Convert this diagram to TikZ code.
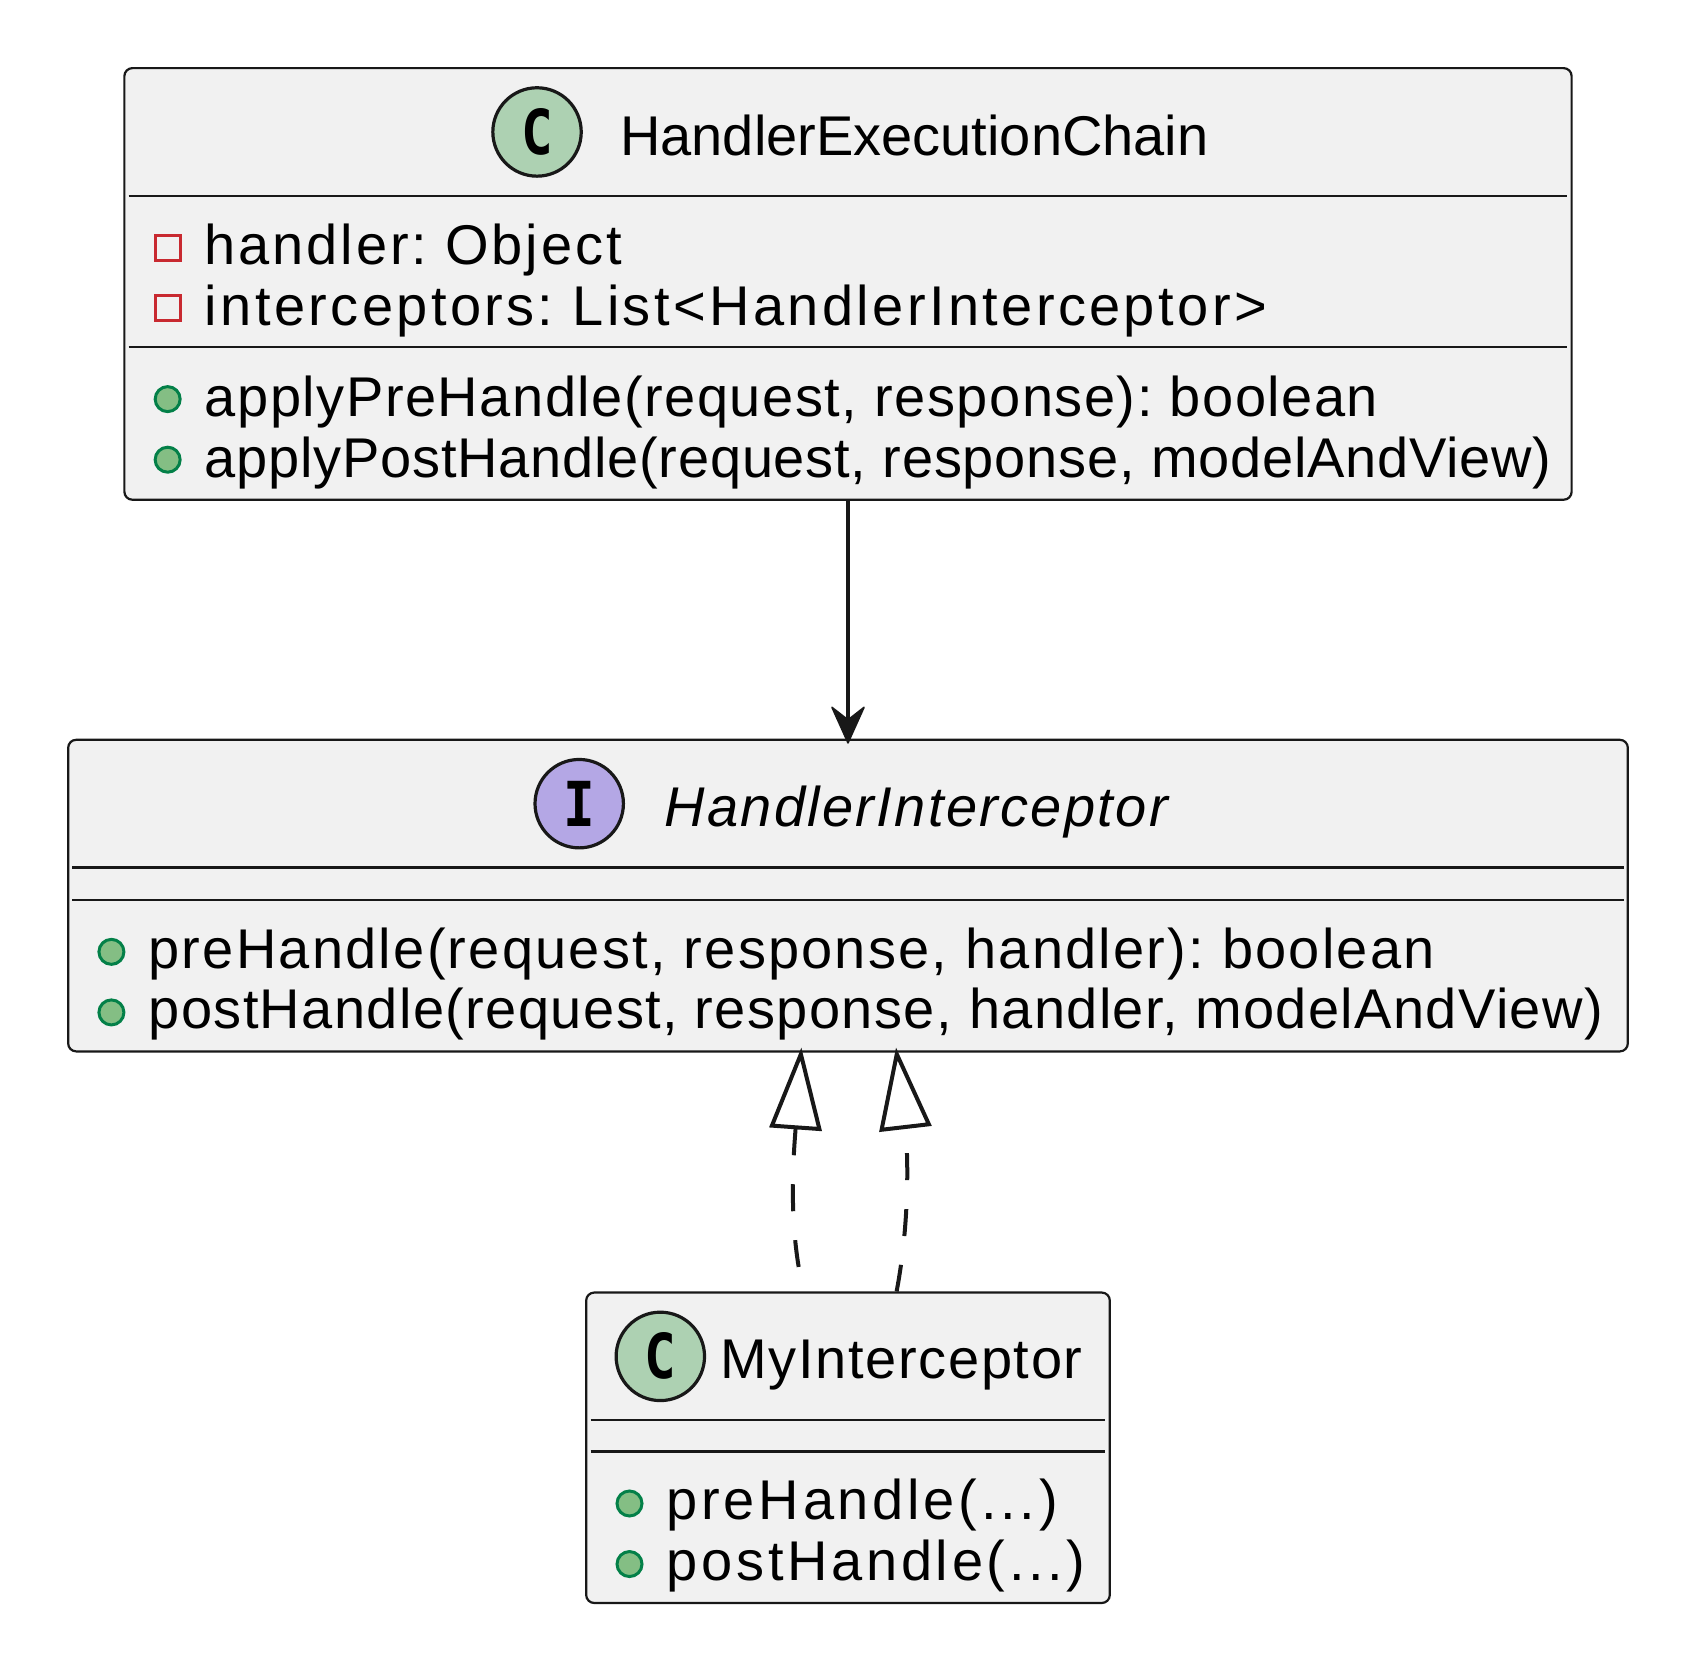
\documentclass[tikz,border=0pt]{standalone}
\usepackage{fontspec}
\setmainfont{Liberation Sans}
\newfontfamily\spotfont[FakeStretch=0.85]{DejaVu Sans Mono}
\newcommand{\spaced}[1]{\addfontfeature{LetterSpace=#1}}
\usetikzlibrary{arrows.meta}
\definecolor{boxfill}{HTML}{F1F1F1}
\definecolor{boxline}{HTML}{181818}
\definecolor{classspot}{HTML}{ADD1B2}
\definecolor{ifacespot}{HTML}{B4A7E5}
\definecolor{privline}{HTML}{C82930}
\definecolor{pubfill}{HTML}{84BE84}
\definecolor{publine}{HTML}{038048}
\tikzset{x=0.5408pt,y=-0.5408pt,
    classbox/.style={draw=boxline,fill=boxfill,line width=1.1pt,rounded corners=4pt,inner sep=0pt},
    divider/.style={draw=boxline,line width=1.1pt},
    spot/.style={circle,draw=boxline,line width=1.6pt,minimum size=44.2pt,inner sep=0pt,font=\spotfont\bfseries\fontsize{31}{31}\selectfont},
    title/.style={anchor=base west,inner sep=0pt,font=\frenchspacing\fontsize{28}{28}\selectfont},
    member/.style={anchor=base west,inner sep=0pt,font=\frenchspacing\fontsize{28}{28}\selectfont},
    privmark/.style={rectangle,draw=privline,line width=1.5pt,minimum size=12.5pt,inner sep=0pt},
    pubmark/.style={circle,draw=publine,fill=pubfill,line width=1.5pt,minimum size=12.5pt,inner sep=0pt},
    assoc/.style={draw=boxline,line width=2pt,shorten >=-2.5pt,-{Stealth[round,length=20pt,width=18pt,inset=7pt,line width=0.8pt]}},
    realize/.style={draw=boxline,line width=2pt,dash pattern=on 13.5pt off 14.5pt},
    hollow/.tip={Triangle[open,length=41pt,width=26pt,line width=2pt]},
    }

\begin{document}
\begin{tikzpicture}
	\useasboundingbox (0,0) rectangle (1568,1542.2);
	% chain
	\node[classbox,minimum width=723.6pt,minimum height=215.8pt] (chain) at (784,262.5) {};
	\draw[divider] (119,181) -- (1449,181);
	\draw[divider] (119,321) -- (1449,321);
	\node[spot,fill=classspot] (chainspot) at (496.5,122) {C};
	\node[title] (chainname) at (573,143.5) {HandlerExecutionChain};
	\node[privmark] (handlermark) at (155,229) {};
	\node[member] (handlertext) at (189,244.5) {\spaced{5.1}handler: Object};
	\node[privmark] (listmark) at (155,285) {};
	\node[member] (listtext) at (189,300.5) {\spaced{6.05}interceptors: List<HandlerInterceptor>};
	\node[pubmark] (applypremark) at (155,369) {};
	\node[member] (applypretext) at (189,385.5) {\spaced{2.7}applyPreHandle(request, response): boolean};
	\node[pubmark] (applypostmark) at (155,425) {};
	\node[member] (applyposttext) at (189,441) {\spaced{1.35}applyPostHandle(request, response, modelAndView)};
	% interceptor
	\node[classbox,minimum width=779.8pt,minimum height=155.8pt] (iface) at (784,828) {};
	\draw[divider] (67,802) -- (1501,802);
	\draw[divider] (67,832) -- (1501,832);
	\node[spot,fill=ifacespot] (ifacespot) at (535.5,743) {I};
	\node[title,font=\itshape\fontsize{28}{28}\selectfont] (ifacename) at (614,764.5) {\spaced{4.15}HandlerInterceptor};
	\node[pubmark] (premark) at (103,880) {};
	\node[member] (pretext) at (137,895.5) {\spaced{4}preHandle(request, response, handler): boolean};
	\node[pubmark] (postmark) at (103,936) {};
	\node[member] (posttext) at (137,951) {\spaced{2.5}postHandle(request, response, handler, modelAndView)};
	% impl
	\node[classbox,minimum width=261.8pt,minimum height=155.2pt] (impl) at (784,1338.5) {};
	\draw[divider] (546,1313) -- (1022,1313);
	\draw[divider] (546,1342) -- (1022,1342);
	\node[spot,fill=classspot] (implspot) at (610.5,1254) {C};
	\node[title] (implname) at (666,1274.5) {\spaced{2.9}MyInterceptor};
	\node[pubmark] (implpremark) at (582,1390) {};
	\node[member] (implpretext) at (616,1405) {\spaced{6.7}preHandle(...)};
	\node[pubmark] (implpostmark) at (582,1446) {};
	\node[member] (implposttext) at (616,1461) {\spaced{6.6}postHandle(...)};
	% connectors
	\draw[assoc] (chain.south) -- (iface.north);
	\draw[realize,shorten <=-2.5pt,shorten >=1pt,{hollow}-] ([xshift=-23.5pt]iface.south) .. controls (734,1065) and (728,1130) .. ([xshift=-22.2pt]impl.north);
	\draw[realize,shorten >=-2.5pt,-{hollow}] ([xshift=24.3pt]impl.north) .. controls (842,1125) and (839,1060) .. ([xshift=24.3pt]iface.south);
\end{tikzpicture}
\end{document}
